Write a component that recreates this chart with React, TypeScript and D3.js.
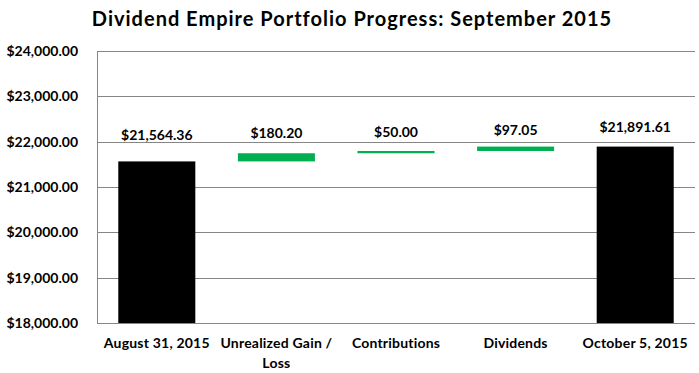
import * as d3 from "d3";

// chart data
const categories = ["August 31, 2015", "Unrealized Gain / Loss", "Contributions", "Dividends", "October 5, 2015"];
const categoryLines = [["August 31, 2015"], ["Unrealized Gain /", "Loss"], ["Contributions"], ["Dividends"], ["October 5, 2015"]];
const amounts = [21564.36, 180.2, 50.0, 97.05, 21891.61];
const kinds = ["total", "delta", "delta", "delta", "total"];
const amountLabels = ["$21,564.36", "$180.20", "$50.00", "$97.05", "$21,891.61"];
const yTicks = [18000, 19000, 20000, 21000, 22000, 23000, 24000];
const title = "Dividend Empire Portfolio Progress: September 2015";

// label gap above each bar top (px), as Excel placed them
const labelGaps = [21, 15, 14, 12, 15];

const width = 699;
const height = 373;
const margin = { top: 51, right: 4, bottom: 50, left: 97 };
const font = "Lato, 'Open Sans', sans-serif";

export default function App() {
  const x = d3
    .scaleBand()
    .domain(categories)
    .range([margin.left, width - margin.right])
    .paddingInner(0.356)
    .paddingOuter(0.178);
  const y = d3
    .scaleLinear()
    .domain([18000, 24000])
    .range([height - margin.bottom, margin.top]);

  //build waterfall segments
  let running = 0;
  const bars = categories.map((c, i) => {
    let lo, hi;
    if (kinds[i] === "total") {
      lo = y.domain()[0];
      hi = amounts[i];
      running = amounts[i];
    } else {
      lo = running;
      hi = running + amounts[i];
      running = hi;
    }
    return { c, lo, hi, kind: kinds[i], label: amountLabels[i], lines: categoryLines[i], gap: labelGaps[i] };
  });

  const fmt = d3.format("$,.2f");
  const cx = (c: string) => (x(c) || 0) + x.bandwidth() / 2;

  return (
    <svg
      width={width}
      height={height}
      style={{ position: "absolute", left: 0, top: 0, background: "#fff" }}
      fontFamily={font}
    >
      <text x={352} y={26} textAnchor="middle" fontSize={20} fontWeight="bold" letterSpacing={1} fill="#000">
        {title}
      </text>

      {/* gridlines */}
      {yTicks.map((t) => (
        <line
          key={t}
          x1={margin.left}
          x2={width - margin.right}
          y1={Math.round(y(t)) + 0.5}
          y2={Math.round(y(t)) + 0.5}
          stroke="#868686"
          strokeWidth={1}
        />
      ))}
      <line
        x1={margin.left + 0.5}
        x2={margin.left + 0.5}
        y1={y(24000)}
        y2={y(18000)}
        stroke="#868686"
      />

      {/* y tick labels */}
      {yTicks.map((t) => (
        <text
          key={"l" + t}
          x={78}
          y={y(t)}
          dy="0.35em"
          textAnchor="end"
          fontSize={14}
          fontWeight="bold"
          fill="#000"
        >
          {fmt(t)}
        </text>
      ))}

      {/* bars */}
      {bars.map((b) => (
        <rect
          key={b.c}
          x={x(b.c)}
          width={x.bandwidth()}
          y={y(b.hi)}
          height={y(b.lo) - y(b.hi)}
          fill={b.kind === "total" ? "#000000" : "#00B050"}
        />
      ))}

      {/* value labels */}
      {bars.map((b) => (
        <text
          key={"v" + b.c}
          x={cx(b.c)}
          y={y(b.hi) - b.gap}
          textAnchor="middle"
          fontSize={14}
          fontWeight="bold"
          fill="#000"
        >
          {b.label}
        </text>
      ))}

      {/* category labels */}
      {bars.map((b) => (
        <text
          key={"c" + b.c}
          x={cx(b.c)}
          y={348}
          textAnchor="middle"
          fontSize={14}
          fontWeight="bold"
          letterSpacing={0.2}
          fill="#000"
        >
          {b.lines.map((ln, j) => (
            <tspan key={j} x={cx(b.c)} dy={j === 0 ? 0 : 20}>
              {ln}
            </tspan>
          ))}
        </text>
      ))}
    </svg>
  );
}
